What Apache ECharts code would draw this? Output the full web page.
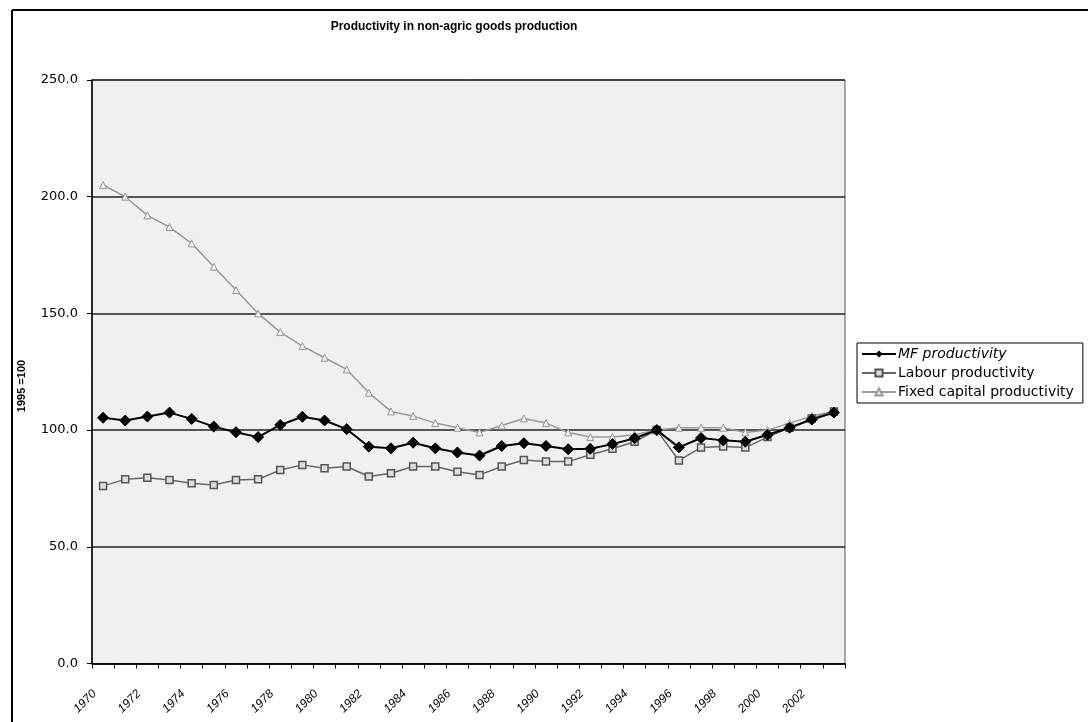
<!DOCTYPE html>
<html>
<head>
<meta charset="utf-8">
<script src="https://cdn.jsdelivr.net/npm/echarts@6/dist/echarts.min.js"></script>
<style>
html,body{margin:0;padding:0;background:#fff;}
#c{width:1088px;height:722px;}
</style>
</head>
<body>
<div id="c"></div>
<script>
var years = ['1970','1971','1972','1973','1974','1975','1976','1977','1978','1979','1980','1981','1982','1983','1984','1985','1986','1987','1988','1989','1990','1991','1992','1993','1994','1995','1996','1997','1998','1999','2000','2001','2002','2003'];
var mfProductivity = [105.3,104.1,105.8,107.5,104.8,101.5,99.1,97.0,102.2,105.7,104.1,100.4,92.9,92.2,94.6,92.2,90.4,89.1,93.2,94.4,93.2,91.8,92.0,94.0,96.5,100.0,92.6,96.6,95.6,95.0,98.0,101.0,104.5,107.5];
var labourProductivity = [76.1,78.9,79.6,78.6,77.2,76.5,78.6,78.9,82.9,85.1,83.7,84.4,80.1,81.5,84.4,84.4,82.2,80.8,84.4,87.2,86.5,86.5,89.4,92.0,95.0,100.0,87.0,92.5,93.0,92.5,97.0,101.0,105.0,108.0];
var fixedCapitalProductivity = [205,200,192,187,180,170,160,150,142,136,131,126,116,108,106,103,101,99,102,105,103,99,97,97,98,100,101,101,101,99,100,103,106,108];
var seriesNames = ['MF productivity','Labour productivity','Fixed capital productivity'];

var chart = echarts.init(document.getElementById('c'));
var font = 'Liberation Sans, Arial, sans-serif';
var wide = 'DejaVu Sans, sans-serif';
chart.setOption({
  animation: false,
  backgroundColor: '#fff',
  textStyle: {fontFamily: font},
  title: {
    text: 'Productivity in non-agric goods production',
    left: 449, top: 16, textAlign: 'center',
    textStyle: {fontFamily: font, fontSize: 12, fontWeight: 'bold', color: '#000'}
  },
  graphic: [
    {type: 'line', shape: {x1: 12, y1: 10, x2: 1088, y2: 10}, style: {stroke: '#000', lineWidth: 2}},
    {type: 'line', shape: {x1: 12, y1: 10, x2: 12, y2: 722}, style: {stroke: '#000', lineWidth: 2}},
    {type: 'text', x: 22, y: 386, rotation: Math.PI / 2,
     style: {text: '1995 =100', font: 'bold 11px ' + font, fill: '#000', textAlign: 'center', textVerticalAlign: 'middle'}}
  ],
  legend: {
    orient: 'vertical',
    left: 857, top: 343,
    data: seriesNames,
    itemWidth: 34, itemHeight: 9, itemGap: 5,
    padding: [4, 9, 4, 4],
    borderColor: '#000', borderWidth: 1,
    backgroundColor: '#fff',
    textStyle: {fontFamily: wide, fontSize: 14, color: '#000', padding: [0, 0, 0, -3],
      rich: {it: {fontStyle: 'italic', fontFamily: wide, fontSize: 14, color: '#000'}}},
    formatter: function (n) { return n === 'MF productivity' ? '{it|' + n + '}' : n; }
  },
  grid: {left: 92, top: 80, right: 243, bottom: 58.5, show: true, backgroundColor: '#f0f0f0', borderColor: '#555', borderWidth: 1},
  xAxis: {
    type: 'category', data: years, boundaryGap: true,
    axisLine: {lineStyle: {color: '#000', width: 1.5}},
    axisTick: {show: true, interval: 0, length: 5, lineStyle: {color: '#000'}},
    axisLabel: {interval: 1, rotate: 45, margin: 20, padding: [0, 12, 0, 0], fontFamily: font, fontSize: 12, fontStyle: 'italic', color: '#000'},
    splitLine: {show: false}
  },
  yAxis: {
    type: 'value', min: 0, max: 250, interval: 50,
    axisLine: {show: true, lineStyle: {color: '#000', width: 1.5}},
    axisTick: {show: true, length: 5, lineStyle: {color: '#000'}},
    axisLabel: {margin: 14, fontFamily: wide, fontSize: 13, color: '#000',
      formatter: function (v) { return v.toFixed(1); }},
    splitLine: {show: true, lineStyle: {color: '#222', width: 1.5}}
  },
  series: [
    {name: seriesNames[0], type: 'line', data: mfProductivity, z: 5,
     symbol: 'diamond', symbolSize: 11,
     lineStyle: {color: '#000', width: 2}, itemStyle: {color: '#000', borderColor: '#000'}},
    {name: seriesNames[1], type: 'line', data: labourProductivity, z: 4,
     symbol: 'rect', symbolSize: 7,
     lineStyle: {color: '#666', width: 1.5}, itemStyle: {color: '#ddd', borderColor: '#555', borderWidth: 1.5}},
    {name: seriesNames[2], type: 'line', data: fixedCapitalProductivity, z: 3,
     symbol: 'triangle', symbolSize: 7,
     lineStyle: {color: '#999', width: 1.5}, itemStyle: {color: '#eee', borderColor: '#999', borderWidth: 1}}
  ]
});
</script>
</body>
</html>
